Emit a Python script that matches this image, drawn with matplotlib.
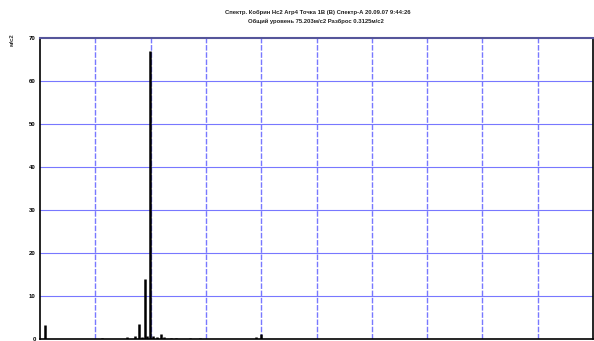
import matplotlib
matplotlib.use("Agg")
import matplotlib.pyplot as plt

plt.rcParams["font.family"] = ["Liberation Sans", "DejaVu Sans"]

# Spectrum lines: frequency position (Hz) and amplitude (m/s2)
freq = [9, 112, 158, 172, 179, 184, 190, 194, 199, 205, 212, 219, 224, 236, 246, 271, 289, 390, 399]
ampl = [3.2, 0.3, 0.4, 0.8, 3.5, 0.5, 14.0, 0.6, 67.0, 0.8, 0.5, 1.2, 0.5, 0.3, 0.3, 0.2, 0.2, 0.4, 1.2]

y_ticks = [0, 10, 20, 30, 40, 50, 60, 70]
x_grid = [100, 200, 300, 400, 500, 600, 700, 800, 900]

title_lines = [
    "Спектр. Кобрин Нс2 Агр4 Точка 1В (В) Спектр-А 20.09.07 9:44:26",
    "Общий уровень 75.203м/с2 Разброс 0.3125м/с2",
]

fig = plt.figure(figsize=(5.94, 3.41), dpi=100)
ax = fig.add_axes([40 / 594, 2 / 341, 553 / 594, 301 / 341])

grid_color = "#7878ff"
for y in y_ticks[1:-1]:
    ax.axhline(y, color=grid_color, lw=0.8, zorder=1)
for x in x_grid:
    ax.axvline(x, color=grid_color, lw=1.0, ls=(0, (4, 1.2)), zorder=1)

ax.vlines(freq, 0, ampl, colors="black", lw=1.8, zorder=3)

ax.set_xlim(0, 1000)
ax.set_ylim(0, 70)
ax.set_xticks([])
ax.set_yticks(y_ticks)
ax.set_yticklabels([str(v) for v in y_ticks], fontsize=4.3, fontweight="bold")
ax.tick_params(axis="y", length=0, pad=3)

for side in ("left", "right", "bottom"):
    ax.spines[side].set_color("black")
    ax.spines[side].set_linewidth(1.2)
ax.spines["top"].set_color("#55559a")
ax.spines["top"].set_linewidth(1.5)

fig.text(12 / 594, 1 - 40 / 341, "м/с2", rotation=90, fontsize=4.3,
         fontweight="bold", ha="center", va="center", color="#333333")
fig.text(318 / 594, 1 - 12 / 341, title_lines[0], fontsize=4.2,
         fontweight="bold", ha="center", va="center", color="#222222")
fig.text(316 / 594, 1 - 21 / 341, title_lines[1], fontsize=4.2,
         fontweight="bold", ha="center", va="center", color="#222222")

fig.savefig("out.png", dpi=100)
